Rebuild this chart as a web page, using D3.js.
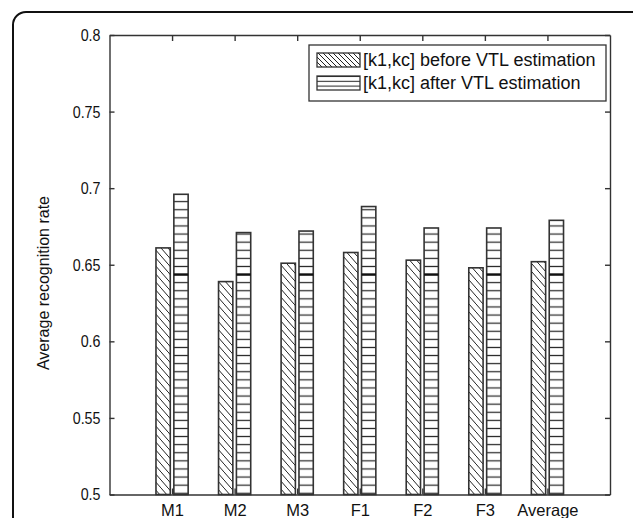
<!DOCTYPE html>
<html>
<head>
<meta charset="utf-8">
<script src="https://cdn.jsdelivr.net/npm/d3@7"></script>
<style>
  body { margin: 0; background: #fff; }
  text { font-family: "Liberation Sans", Arial, sans-serif; fill: #111; }
</style>
</head>
<body>
<svg id="chart" width="633" height="518"></svg>
<script>
// values
const categories = ["M1", "M2", "M3", "F1", "F2", "F3", "Average"];
const beforeVTL = [0.661, 0.639, 0.651, 0.658, 0.653, 0.648, 0.652];
const afterVTL = [0.696, 0.671, 0.672, 0.688, 0.674, 0.674, 0.679];
const yTicks = [0.5, 0.55, 0.6, 0.65, 0.7, 0.75, 0.8];
const yTickLabels = ["0.5", "0.55", "0.6", "0.65", "0.7", "0.75", "0.8"];
const seriesNames = ["[k1,kc] before VTL estimation", "[k1,kc] after VTL estimation"];
const stripeDarkLevel = 0.6436; // the darker stripe that runs through every "after" bar

const svg = d3.select("#chart");
const pLeft = 109.5, pRight = 610, pTop = 35, pBottom = 494.5;

const x = d3.scaleLinear().domain([0, categories.length + 1]).range([pLeft, pRight]);
const y = d3.scaleLinear().domain([0.5, 0.8]).range([pBottom, pTop]);

// matlab style grouped bars
const groupWidth = 2 / 3.5;
const barW = groupWidth / 2 * 0.8;
const offsets = [-groupWidth / 4, groupWidth / 4];

let defs = svg.append("defs");

let hatch = defs.append("pattern")
    .attr("id", "hatch")
    .attr("patternUnits", "userSpaceOnUse")
    .attr("width", 7).attr("height", 8);
hatch.append("rect").attr("width", 7).attr("height", 8).attr("fill", "#fff");
hatch.append("path")
    .attr("d", "M0,0L7,8M-1,7L1,9M6,-1L8,1")
    .attr("stroke", "#222").attr("stroke-width", 1);

const stripeH = 8.1;
let stripes = defs.append("pattern")
    .attr("id", "stripes")
    .attr("patternUnits", "userSpaceOnUse")
    .attr("y", y(stripeDarkLevel) - stripeH / 2)
    .attr("width", 10).attr("height", stripeH);
stripes.append("rect").attr("width", 10).attr("height", stripeH).attr("fill", "#fff");
stripes.append("line")
    .attr("x1", 0).attr("x2", 10)
    .attr("y1", stripeH / 2).attr("y2", stripeH / 2)
    .attr("stroke", "#222").attr("stroke-width", 1.2);

// outer rounded frame
svg.append("rect")
    .attr("x", 13).attr("y", 12)
    .attr("width", 640).attr("height", 540)
    .attr("rx", 13)
    .attr("fill", "none").attr("stroke", "#111").attr("stroke-width", 2);

// bars
let bars = svg.append("g").attr("id", "bars");
let series = [beforeVTL, afterVTL];
let fills = ["url(#hatch)", "url(#stripes)"];

series.forEach(function(vals, s) {
    bars.selectAll(".bar" + s)
        .data(vals)
        .enter().append("rect")
        .attr("class", "bar" + s)
        .attr("x", (d, i) => x(i + 1 + offsets[s] - barW / 2))
        .attr("width", x(barW) - x(0))
        .attr("y", d => y(d))
        .attr("height", d => y(0.5) - y(d))
        .attr("fill", fills[s])
        .attr("stroke", "#333")
        .attr("stroke-width", 1.6);
});

bars.selectAll(".dark")
    .data(afterVTL)
    .enter().append("line")
    .attr("class", "dark")
    .attr("x1", (d, i) => x(i + 1 + offsets[1] - barW / 2))
    .attr("x2", (d, i) => x(i + 1 + offsets[1] + barW / 2))
    .attr("y1", y(stripeDarkLevel)).attr("y2", y(stripeDarkLevel))
    .attr("stroke", "#111").attr("stroke-width", 2.4);

// axes box with inward ticks
let catTicks = d3.range(1, categories.length + 1);
let fmtCat = i => categories[i - 1];

svg.append("g")
    .attr("transform", `translate(0,${pBottom})`)
    .call(d3.axisBottom(x).tickValues(catTicks).tickFormat(fmtCat).tickSizeInner(-6).tickSizeOuter(0))
    .call(g => g.selectAll("text")
        .attr("font-size", 16.5).attr("font-family", "Liberation Sans")
        .attr("y", 21.5).attr("dy", 0));

svg.append("g")
    .attr("transform", `translate(0,${pTop})`)
    .call(d3.axisTop(x).tickValues(catTicks).tickFormat("").tickSizeInner(-6).tickSizeOuter(0));

svg.append("g")
    .attr("transform", `translate(${pLeft},0)`)
    .call(d3.axisLeft(y).tickValues(yTicks).tickFormat((d, i) => yTickLabels[i]).tickSizeInner(-5).tickSizeOuter(0).tickPadding(9))
    .call(g => g.selectAll("text")
        .attr("font-size", 17).attr("font-family", "Liberation Sans")
        .each(function() {
            // the original labels are a tall, narrow face
            let w = this.getComputedTextLength();
            d3.select(this).attr("textLength", w * 0.84).attr("lengthAdjust", "spacingAndGlyphs");
        }));

svg.append("g")
    .attr("transform", `translate(${pRight},0)`)
    .call(d3.axisRight(y).tickValues(yTicks).tickFormat("").tickSizeInner(-5).tickSizeOuter(0));

svg.selectAll(".domain").attr("stroke", "#333").attr("stroke-width", 1.4);
svg.selectAll(".tick line").attr("stroke", "#333").attr("stroke-width", 1.4);

// y title
svg.append("text")
    .attr("transform", "translate(49,283) rotate(-90)")
    .attr("text-anchor", "middle")
    .attr("font-size", 16)
    .text("Average recognition rate");

// legend
let legend = svg.append("g").attr("id", "legend");
legend.append("rect")
    .attr("x", 309).attr("y", 45)
    .attr("width", 297).attr("height", 56)
    .attr("fill", "#fff").attr("stroke", "#333").attr("stroke-width", 1.3);

let swatchPat = ["hatchL", "stripesL"];
let lh = defs.append("pattern").attr("id", "hatchL")
    .attr("patternUnits", "userSpaceOnUse").attr("width", 5).attr("height", 5);
lh.append("rect").attr("width", 5).attr("height", 5).attr("fill", "#fff");
lh.append("path").attr("d", "M0,0L5,5M-1,4L1,6M4,-1L6,1").attr("stroke", "#222");
let ls = defs.append("pattern").attr("id", "stripesL")
    .attr("patternUnits", "userSpaceOnUse").attr("y", 76).attr("width", 10).attr("height", 4.8);
ls.append("rect").attr("width", 10).attr("height", 4.8).attr("fill", "#fff");
ls.append("line").attr("x1", 0).attr("x2", 10).attr("y1", 0).attr("y2", 0).attr("stroke", "#222").attr("stroke-width", 2);

seriesNames.forEach(function(name, i) {
    let ry = 53 + i * 23;
    legend.append("rect")
        .attr("x", 317).attr("y", ry)
        .attr("width", 43).attr("height", 14)
        .attr("fill", "url(#" + swatchPat[i] + ")")
        .attr("stroke", "#333").attr("stroke-width", 1.3);
    legend.append("text")
        .attr("x", 363).attr("y", ry + 13)
        .attr("font-size", 18)
        .text(name);
});
</script>
</body>
</html>
